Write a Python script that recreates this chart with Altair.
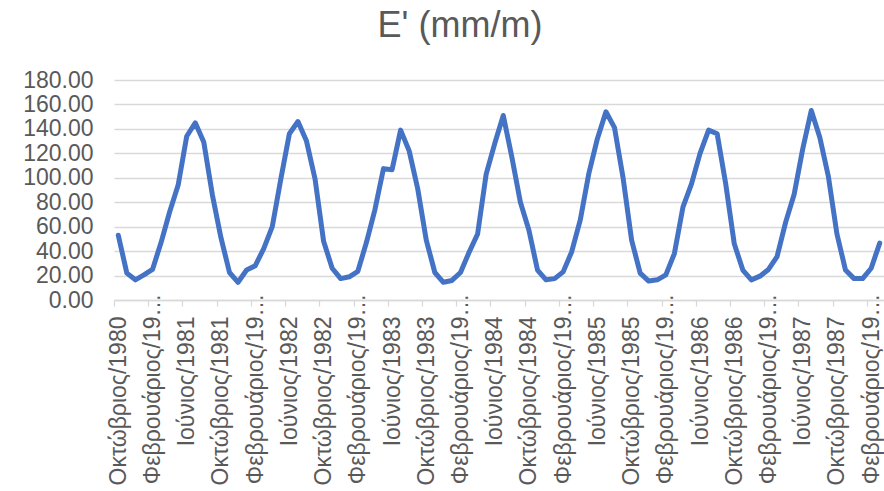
import altair as alt
import pandas as pd

# Monthly values, Oct 1980 .. Mar 1988 (90 months)
values = [
    53, 22, 16.5, 20.5, 25, 47, 72, 94, 134, 145, 129, 86,
    51, 22.5, 14.5, 24.5, 28, 42, 60, 99, 136, 146, 130, 99,
    48, 26, 17.5, 19, 23.5, 47, 74, 107.5, 106.5, 139, 122, 91,
    49, 22.5, 14.5, 16, 22.5, 39, 54, 103, 128, 151, 117, 80,
    57, 24.5, 16.5, 17.5, 23, 39.5, 65.5, 103.5, 132, 154, 141, 100,
    49, 22, 15.5, 16.5, 20.5, 38, 76, 95, 120, 139, 136, 95,
    46, 24.5, 16.5, 19.5, 25, 35.5, 63.5, 86.5, 123.5, 155, 133, 101,
    54, 24.5, 17.5, 17.5, 26, 46.5,
]

# Axis labels shown every 4 months
tick_labels = [
    "Οκτώβριος/1980", "Φεβρουάριος/19…", "Ιούνιος/1981",
    "Οκτώβριος/1981", "Φεβρουάριος/19…", "Ιούνιος/1982",
    "Οκτώβριος/1982", "Φεβρουάριος/19…", "Ιούνιος/1983",
    "Οκτώβριος/1983", "Φεβρουάριος/19…", "Ιούνιος/1984",
    "Οκτώβριος/1984", "Φεβρουάριος/19…", "Ιούνιος/1985",
    "Οκτώβριος/1985", "Φεβρουάριος/19…", "Ιούνιος/1986",
    "Οκτώβριος/1986", "Φεβρουάριος/19…", "Ιούνιος/1987",
    "Οκτώβριος/1987", "Φεβρουάριος/19…",
]
y_ticks = [0, 20, 40, 60, 80, 100, 120, 140, 160, 180]

n = len(values)
df = pd.DataFrame({"i": list(range(n)), "E": values})

tick_vals = [4 * k - 0.5 for k in range(len(tick_labels))]
label_array = "[" + ",".join("'" + t + "'" for t in tick_labels) + "]"
idx_expr = "round((datum.value + 0.5) / 4)"

FONT = "Liberation Sans"
GREY = "#595959"
W, H = 770, 220
step = W / n

chart = alt.Chart(df).mark_line(
    color="#4472C4", strokeWidth=5, strokeJoin="round", strokeCap="round"
).encode(
    x=alt.X(
        "i:Q",
        scale=alt.Scale(domain=[-0.5, n - 0.5], nice=False, zero=False),
        axis=alt.Axis(
            title=None,
            values=tick_vals,
            labelExpr=label_array + "[" + idx_expr + "]",
            labelAngle=270,
            labelOffset=step / 2,
            labelPadding={"condition": {"test": idx_expr + " % 3 == 1", "value": -13}, "value": 10},
            labelFont=FONT,
            labelFontSize=23,
            labelColor=GREY,
            labelLimit=0,
            labelOverlap=False,
            labelFlush=False,
            domainColor="#d9d9d9",
            domainWidth=1.3,
            tickColor="#d9d9d9",
            tickWidth=1.3,
            tickSize=6,
            grid=False,
        ),
    ),
    y=alt.Y(
        "E:Q",
        scale=alt.Scale(domain=[0, 180], nice=False),
        axis=alt.Axis(
            title=None,
            values=y_ticks,
            format=".2f",
            labelFont=FONT,
            labelFontSize=23,
            labelColor=GREY,
            labelPadding=21,
            domain=False,
            ticks=False,
            gridColor="#d9d9d9",
            gridWidth=1.3,
        ),
    ),
).properties(
    width=W,
    height=H,
    title=alt.TitleParams(
        "E' (mm/m)", font=FONT, fontSize=36, color=GREY, fontWeight="normal",
        anchor="middle", dx=-39, offset=24,
    ),
    autosize=alt.AutoSizeParams(type="none"),
    padding={"left": 114, "top": 80, "right": 0, "bottom": 191},
    background="white",
).configure_view(stroke=None)

chart.save("out.html", embed_options={"renderer": "svg", "actions": False})
